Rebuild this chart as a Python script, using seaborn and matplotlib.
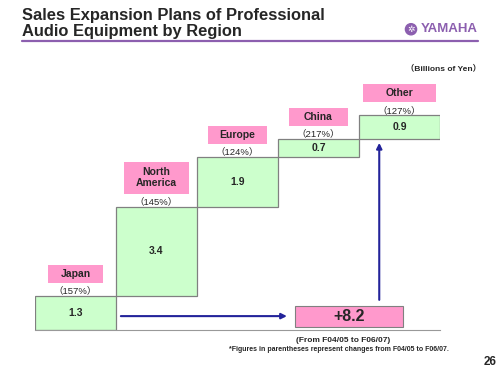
import numpy as np
import pandas as pd
import matplotlib
matplotlib.use("Agg")
import matplotlib.pyplot as plt
from matplotlib.patches import Rectangle
import seaborn as sns

# data (billions of yen, increase from F04/05 to F06/07)
regions = ["Japan", "North\nAmerica", "Europe", "China", "Other"]
increase = [1.3, 3.4, 1.9, 0.7, 0.9]
growth = ["（157%）", "（145%）", "（124%）", "（217%）", "（127%）"]
total_label = "+8.2"

sns.set_style("white")
plt.rcParams["font.family"] = ["Liberation Sans", "Noto Sans CJK JP", "DejaVu Sans"]

df = pd.DataFrame({"region": regions, "value": increase})
df["bottom"] = df["value"].cumsum() - df["value"]
df["top"] = df["value"].cumsum()

GREEN = "#CCFFCC"
PINK = "#FF99CC"
NAVY = "#23239A"
PURPLE = "#8C5FAF"

fig = plt.figure(figsize=(5, 3.75), dpi=100)
ax = fig.add_axes([0.07, 0.12, 0.81, 0.6667])

sns.barplot(data=df, x="region", y="value", bottom=df["bottom"], width=1.0,
            color=GREEN, saturation=1, edgecolor="#808080", linewidth=0.9, ax=ax)

ax.set_xlim(-0.5, len(regions) - 0.5)
ax.set_ylim(0, 9.54)
for s in ["top", "right", "left"]:
    ax.spines[s].set_visible(False)
ax.spines["bottom"].set_color("#999999")
ax.set_yticks([])
ax.set_xticks(np.arange(len(regions)) + 0.5)
ax.set_xticklabels([])
ax.tick_params(axis="x", length=4, width=0.9, direction="inout", color="#888888")
ax.set_xlabel("")
ax.set_ylabel("")

# labels on each step
box_w = [0.68, 0.80, 0.74, 0.74, 0.89]
for i, row in df.iterrows():
    ax.text(i, row["bottom"] + row["value"] / 2, f"{row['value']:.1f}",
            ha="center", va="center", fontsize=7.5, fontweight="bold")
    ax.annotate(growth[i], (i, row["top"]), xytext=(0, 5), textcoords="offset pixels",
                ha="center", va="center", fontsize=6.8)
    nlines = row["region"].count("\n") + 1
    h = 0.69 if nlines == 1 else 1.22
    y0 = row["top"] + 0.5
    ax.add_patch(Rectangle((i - box_w[i] / 2, y0), box_w[i], h, facecolor=PINK,
                           edgecolor="none", clip_on=False))
    ax.text(i, y0 + h / 2, row["region"], ha="center", va="center",
            fontsize=7.5, fontweight="bold", linespacing=1.15)

# total box
tx0, tx1 = 2.71, 4.04
ax.add_patch(Rectangle((tx0, 0.11), tx1 - tx0, 0.81, facecolor=PINK,
                       edgecolor="#808080", linewidth=0.8))
ax.text((tx0 + tx1) / 2, 0.52, total_label, ha="center", va="center",
        fontsize=11.5, fontweight="bold")

# arrows
ax.annotate("", xy=(tx0 - 0.1, 0.53), xytext=(0.56, 0.53),
            arrowprops=dict(arrowstyle="-|>", color=NAVY, lw=1.5, mutation_scale=8,
                            shrinkA=0, shrinkB=0))
ax.annotate("", xy=(3.75, df["top"].iloc[3] - 0.16), xytext=(3.75, 1.15),
            arrowprops=dict(arrowstyle="-|>", color=NAVY, lw=1.5, mutation_scale=8,
                            shrinkA=0, shrinkB=0))

# header
fig.text(0.044, 0.938, "Sales Expansion Plans of Professional\nAudio Equipment by Region",
         ha="left", va="center", fontsize=11.9, fontweight="bold", linespacing=1.05)
fig.add_artist(plt.Line2D([0.044, 0.956], [0.890, 0.890], color=PURPLE, lw=1.6))
fig.text(0.956, 0.922, "YAMAHA", ha="right", va="center", fontsize=9.5,
         fontweight="bold", color=PURPLE, fontstretch="condensed")
fig.text(0.822, 0.922, "✲", ha="center", va="center", fontsize=6.5, color="white",
         family="DejaVu Sans",
         bbox=dict(boxstyle="circle,pad=0.12", fc=PURPLE, ec=PURPLE))
fig.text(0.962, 0.819, "（Billions of Yen）", ha="right", va="center",
         fontsize=6, fontweight="bold")

# footer
fig.text(0.686, 0.093, "(From F04/05 to F06/07)", ha="center", va="center",
         fontsize=6, fontweight="bold")
fig.text(0.678, 0.069, "*Figures in parentheses represent changes from F04/05 to F06/07.",
         ha="center", va="center", fontsize=5, fontweight="bold")
fig.text(0.98, 0.035, "26", ha="center", va="center", fontsize=8.5, fontweight="bold")

fig.savefig("out.png", dpi=100)
